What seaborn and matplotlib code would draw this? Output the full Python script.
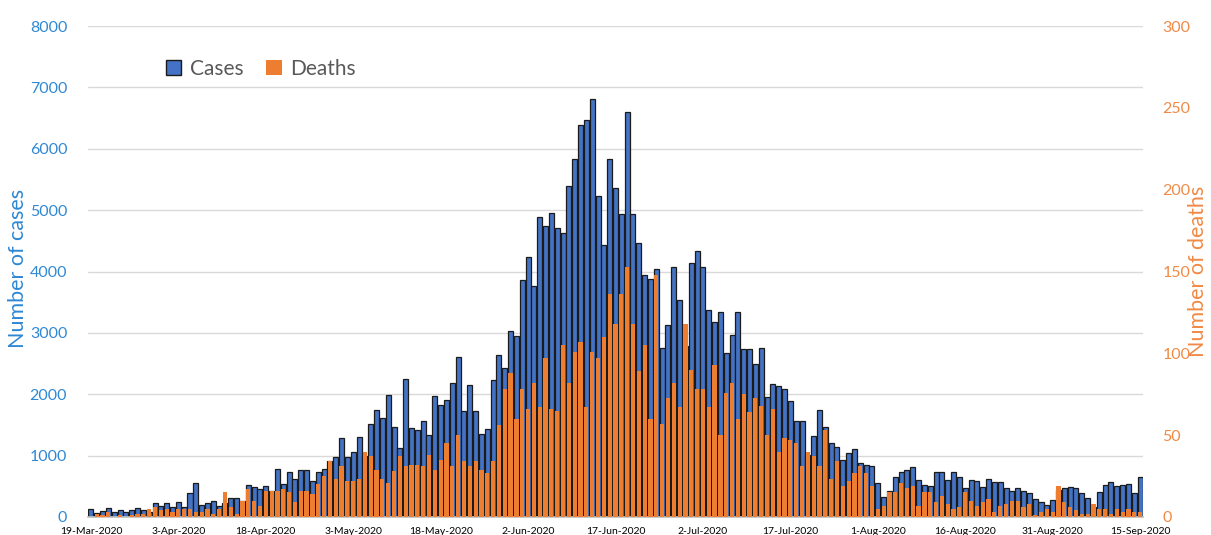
import pandas as pd
import numpy as np
import matplotlib
matplotlib.use("Agg")
import matplotlib.pyplot as plt
import matplotlib.patches as mpatches
import seaborn as sns

# daily values, 19-Mar-2020 .. 15-Sep-2020
cases = [
    136, 65, 103, 152, 76, 109, 87, 119, 152, 109,
    80, 228, 174, 228, 157, 244, 168, 391, 559, 195,
    228, 261, 174, 230, 315, 315, 260, 520, 483, 450,
    500, 430, 780, 540, 730, 620, 760, 760, 590, 730,
    790, 920, 970, 1280, 970, 1060, 1300, 1000, 1515, 1743,
    1618, 1982, 1460, 1124, 2248, 1444, 1412, 1569, 1330, 1965,
    1824, 1911, 2183, 2601, 1727, 2150, 1727, 1347, 1428, 2226,
    2633, 2422, 3025, 2949, 3861, 4235, 3768, 4892, 4735, 4952,
    4708, 4632, 5400, 5830, 6386, 6467, 6809, 5235, 4431, 5832,
    5354, 4930, 6592, 4930, 4458, 3942, 3877, 4040, 2758, 3122,
    4067, 3535, 2780, 4132, 4339, 4078, 3377, 3177, 3339, 2677,
    2959, 3339, 2737, 2737, 2487, 2758, 1960, 2161, 2134, 2080,
    1895, 1569, 1569, 1005, 1314, 1743, 1472, 1200, 1146, 923,
    1048, 1102, 885, 850, 830, 548, 320, 424, 646, 728,
    766, 820, 603, 521, 510, 728, 738, 603, 728, 646,
    478, 603, 592, 494, 619, 576, 576, 478, 429, 467,
    429, 396, 299, 239, 190, 282, 440, 478, 494, 478,
    386, 315, 157, 402, 516, 576, 505, 527, 540, 386,
    652,
]

deaths = [
    0, 2, 1, 3, 0, 1, 0, 1, 2, 2,
    5, 6, 4, 5, 3, 5, 5, 5, 3, 3,
    5, 2, 5, 15, 6, 2, 10, 17, 10, 7,
    16, 16, 16, 17, 15, 9, 16, 16, 14, 20,
    25, 34, 23, 31, 22, 22, 23, 40, 37, 29,
    23, 21, 28, 37, 31, 32, 32, 31, 38, 29,
    35, 45, 31, 50, 34, 31, 34, 29, 27, 34,
    56, 78, 88, 60, 78, 66, 82, 67, 97, 66,
    65, 105, 82, 101, 107, 67, 101, 97, 110, 136,
    118, 136, 153, 118, 89, 105, 60, 148, 57, 73,
    82, 67, 118, 90, 78, 78, 67, 93, 50, 76,
    82, 60, 75, 64, 73, 68, 50, 66, 40, 48,
    47, 45, 31, 40, 37, 31, 53, 23, 34, 19,
    22, 27, 31, 27, 19, 5, 7, 15, 15, 21,
    18, 19, 7, 15, 15, 9, 13, 8, 5, 6,
    15, 10, 7, 9, 11, 3, 7, 8, 10, 10,
    6, 8, 1, 3, 5, 3, 19, 9, 6, 4,
    2, 2, 8, 5, 5, 2, 5, 3, 5, 3,
    3,
]

tick_labels = ["19-Mar-2020", "3-Apr-2020", "18-Apr-2020", "3-May-2020",
               "18-May-2020", "2-Jun-2020", "17-Jun-2020", "2-Jul-2020",
               "17-Jul-2020", "1-Aug-2020", "16-Aug-2020", "31-Aug-2020",
               "15-Sep-2020"]

CASE_COLOR = "#4472C4"
DEATH_COLOR = "#ED7D31"
LEFT_TEXT = "#2F88D4"
RIGHT_TEXT = "#F08A45"

df = pd.DataFrame({"day": np.arange(len(cases)), "cases": cases, "deaths": deaths})

sns.set_theme(style="white")
plt.rcParams["font.family"] = ["Lato", "DejaVu Sans"]

fig = plt.figure(figsize=(12.11, 5.35), dpi=100)
ax = fig.add_axes([88 / 1211, 1 - 517 / 535, 1055 / 1211, 491 / 535])
ax2 = ax.twinx()

sns.barplot(data=df, x="day", y="cases", color=CASE_COLOR, saturation=1,
            edgecolor="#1b1b1b", linewidth=0.9, width=0.86, errorbar=None, ax=ax)
sns.barplot(data=df, x="day", y="deaths", color=DEATH_COLOR, saturation=1,
            linewidth=0, width=0.72, errorbar=None, ax=ax2)

ax.set_ylim(0, 8000)
ax2.set_ylim(0, 300)
ax.set_yticks(range(0, 8001, 1000))
ax2.set_yticks(range(0, 301, 50))
ax.set_xticks(range(0, len(cases), 15))
ax.set_xticklabels(tick_labels)
ax.set_xlim(-0.5, len(cases) - 0.5)

ax.set_axisbelow(True)
ax.yaxis.grid(True, color="#D9D9D9", linewidth=1)
ax.xaxis.grid(False)
ax2.grid(False)

for s in ["left", "right", "top"]:
    ax.spines[s].set_visible(False)
    ax2.spines[s].set_visible(False)
ax.spines["bottom"].set_color("#BFBFBF")
ax2.spines["bottom"].set_visible(False)

ax.tick_params(axis="x", length=0, pad=7, labelsize=7.5, labelcolor="black")
ax.tick_params(axis="y", length=0, pad=15, labelsize=11.5, labelcolor=LEFT_TEXT)
ax2.tick_params(axis="y", length=0, pad=14, labelsize=11.5, labelcolor=RIGHT_TEXT)

ax.set_xlabel("")
ax2.set_xlabel("")
ax.set_ylabel("Number of cases", fontsize=15.5, color=LEFT_TEXT)
ax.yaxis.set_label_coords(-0.057, 0.507)
ax2.set_ylabel("Number of deaths", fontsize=15.5, color=RIGHT_TEXT)
ax2.yaxis.set_label_coords(1.043, 0.50)

handles = [mpatches.Patch(facecolor=CASE_COLOR, edgecolor="#1b1b1b", linewidth=1, label="Cases"),
           mpatches.Patch(facecolor=DEATH_COLOR, edgecolor="none", label="Deaths")]
fig.legend(handles=handles, loc="center left", bbox_to_anchor=(147 / 1211, 1 - 69 / 535),
           ncol=2, frameon=False, fontsize=15, handlelength=0.75, handleheight=0.75,
           handletextpad=0.4, columnspacing=1.1, labelcolor="#595959")

fig.savefig("out.png", dpi=100)
